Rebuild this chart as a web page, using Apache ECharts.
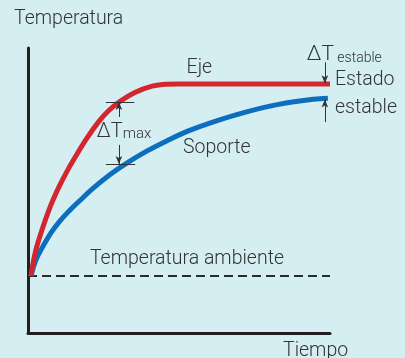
<!DOCTYPE html>
<html>
<head>
<meta charset="utf-8">
<script src="https://cdn.jsdelivr.net/npm/echarts@6/dist/echarts.min.js"></script>
<style>
html,body{margin:0;padding:0;background:#d5eef2;}
#c{width:405px;height:358px;}
</style>
</head>
<body>
<div id="c"></div>
<script>
// Heating curves: time (0-100) vs temperature (0-100), arbitrary units
const ejeCurve = [[1,20],[2.1,26.8],[3.2,31.4],[4.9,37.0],[6.5,41.9],[8.2,46.5],[10.5,51.8],[13,56.9],[15,60.6],[19.4,68.2],[23.3,74.0],[26.5,77.8],[30.5,81.3],[35.4,84.4],[41.1,86.6],[45.4,87.3],[50,87.4],[60,87.4],[100,87.4]];
const soporteCurve = [[1,20],[2.6,25.6],[4.9,30.3],[7.6,35.1],[10.4,39.1],[13.7,42.9],[17.0,46.3],[21.6,50.8],[27.2,55.6],[32.7,59.6],[39.3,63.8],[45.9,67.4],[53.1,70.9],[61.4,74.1],[72.4,77.6],[83.4,80.3],[94.5,82.0],[99.3,82.4]];
const ambiente = [[0,20],[100,20]];

const seriesNames = ['Eje', 'Soporte', 'Temperatura ambiente'];
const axisNames = ['Temperatura', 'Tiempo'];
const steadyLabel = ['Estado', 'estable'];

const ink = '#333333';
const font = 'Roboto';
const weight = 300;

const chart = echarts.init(document.getElementById('c'), null, {renderer: 'canvas'});

function arrow(x, y0, y1) {
  return [{coord: [x, y0], symbol: 'none'}, {coord: [x, y1], symbol: 'arrow', symbolSize: [5, 8]}];
}
function hline(x0, x1, y) {
  return [{coord: [x0, y], symbol: 'none'}, {coord: [x1, y], symbol: 'none'}];
}

chart.setOption({
  backgroundColor: '#d5eef2',
  animation: false,
  grid: {left: 28, right: 75, top: 48, bottom: 25},
  xAxis: {
    type: 'value', min: 0, max: 100,
    axisLine: {show: true, lineStyle: {color: '#231f20', width: 3}},
    axisTick: {show: false}, axisLabel: {show: false}, splitLine: {show: false}
  },
  yAxis: {
    type: 'value', min: 0, max: 100,
    axisLine: {show: true, lineStyle: {color: '#231f20', width: 3}},
    axisTick: {show: false}, axisLabel: {show: false}, splitLine: {show: false}
  },
  series: [
    {
      name: seriesNames[2], type: 'line', data: ambiente, symbol: 'none',
      lineStyle: {color: '#2b2b2b', width: 2, type: [9, 5]},
      z: 1,
      markLine: {
        silent: true, symbol: 'none', label: {show: false},
        lineStyle: {color: ink, width: 1, type: 'solid'},
        data: [
          hline(25.8, 35.2, 81.05),
          hline(25.8, 35.5, 59.3),
          arrow(30.1, 75.8, 81.05),
          arrow(30.1, 66.0, 59.3),
          arrow(98.3, 95.0, 87.6),
          arrow(98.3, 74.0, 81.9)
        ]
      }
    },
    {
      name: seriesNames[1], type: 'line', data: soporteCurve, symbol: 'none',
      smooth: 0.4,
      lineStyle: {color: '#0b6fbd', width: 5, cap: 'butt'}, z: 3
    },
    {
      name: seriesNames[0], type: 'line', data: ejeCurve, symbol: 'none',
      smooth: 0.4,
      lineStyle: {color: '#d3262f', width: 5, cap: 'butt'}, z: 4
    }
  ]
});

// Text annotations anchored in data space
function px(x, y) { return chart.convertToPixel({gridIndex: 0}, [x, y]); }
function txt(p, text, size) {
  return {
    type: 'text', x: p[0], y: p[1],
    style: {text: text, fill: ink, fontSize: size, fontFamily: font, fontWeight: weight, verticalAlign: 'middle'}
  };
}
function sub(p, main, small, mainSize, smallSize, gap) {
  return {
    type: 'text', x: p[0], y: p[1],
    style: {
      text: '{a|' + main + '}' + gap + '{b|' + small + '}',
      fontSize: smallSize, fontFamily: font, fontWeight: weight, fill: ink,
      rich: {
        a: {fill: ink, fontSize: mainSize, fontFamily: font, fontWeight: weight, verticalAlign: 'bottom'},
        b: {fill: ink, fontSize: smallSize, fontFamily: font, fontWeight: weight, padding: [12, 0, 0, 0], verticalAlign: 'bottom'}
      }
    }
  };
}

const pEje = px(52.5, 93);
const pSop = px(51.3, 65);
const pAmb = px(20.5, 26);
const pEst1 = px(100, 87.8);
const pEst2 = px(100, 79.5);
const pDmax = px(22.8, 76.5);
const pDest = px(92.3, 103);

chart.setOption({
  graphic: [
    txt([14, 19], axisNames[0], 19.5),
    txt([283, 351], axisNames[1], 19.5),
    txt(pEje, seriesNames[0], 19.5),
    txt(pSop, seriesNames[1], 19.5),
    txt(pAmb, seriesNames[2], 19.5),
    txt([pEst1[0] + 5, pEst1[1] - 3], steadyLabel[0], 19.5),
    txt([pEst2[0] + 5, pEst2[1] + 2], steadyLabel[1], 19.5),
    sub(pDmax, 'ΔT', 'max', 20, 15, ''),
    sub(pDest, 'ΔT', 'estable', 21, 14, ' ')
  ]
});
</script>
</body>
</html>
